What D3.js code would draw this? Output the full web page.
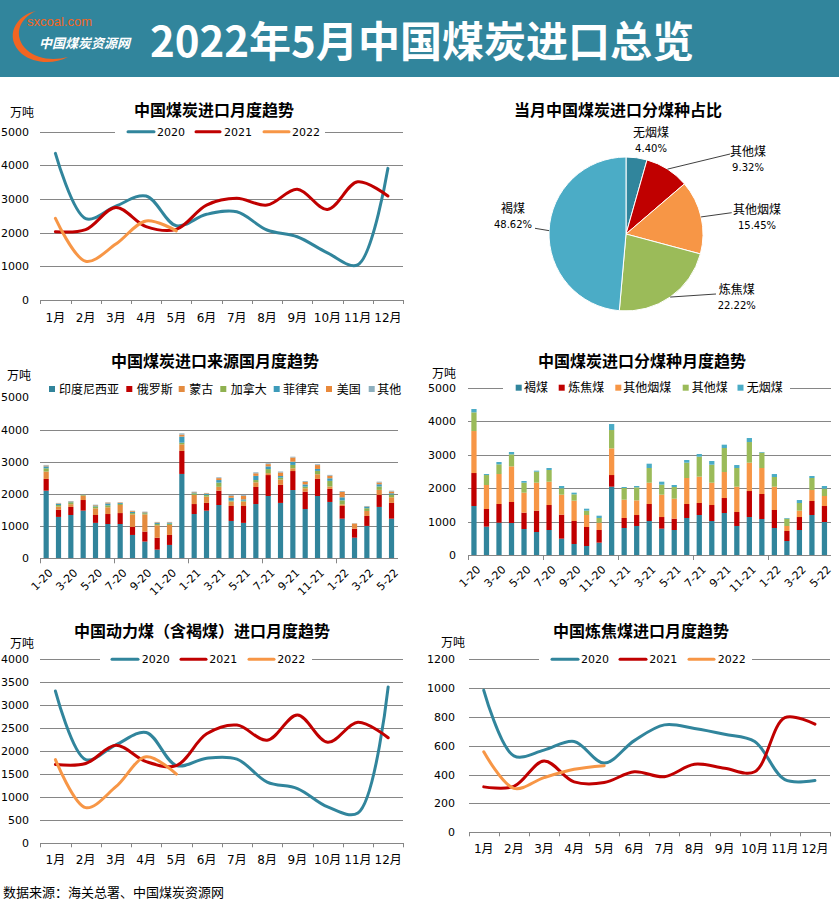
<!DOCTYPE html>
<html><head><meta charset="utf-8">
<script src="https://cdn.jsdelivr.net/npm/d3@7"></script>
<style>body{margin:0;background:#fff;} svg{display:block;}</style>
</head><body>
<svg id="c" width="839" height="903"></svg>
<script>
// ---------- DATA ----------
const months = ["1月","2月","3月","4月","5月","6月","7月","8月","9月","10月","11月","12月"];
const years = ["2020","2021","2022"];

// 中国煤炭进口月度趋势 (万吨)
const total2020 = [4356, 2420, 2790, 3090, 2205, 2545, 2620, 2080, 1880, 1400, 1045, 3910];
const total2021 = [2030, 2090, 2750, 2180, 2100, 2820, 3020, 2820, 3290, 2690, 3510, 3090];
const total2022 = [2425, 1150, 1660, 2350, 2055];

// 中国动力煤（含褐煤）进口月度趋势
const steam2020 = [3310, 1820, 2140, 2410, 1690, 1850, 1830, 1330, 1190, 790, 660, 3400];
const steam2021 = [1715, 1735, 2130, 1775, 1690, 2380, 2570, 2240, 2790, 2195, 2630, 2295];
const steam2022 = [1820, 775, 1230, 1880, 1505];

// 中国炼焦煤进口月度趋势
const coking2020 = [985, 530, 570, 630, 480, 636, 745, 720, 680, 630, 365, 360];
const coking2021 = [315, 318, 495, 350, 345, 420, 386, 472, 444, 420, 795, 750];
const coking2022 = [558, 305, 379, 437, 462];

// 当月中国煤炭进口分煤种占比
const pieNames = ["无烟煤","其他煤","其他烟煤","炼焦煤","褐煤"];
const pieShares = [4.40, 9.32, 15.45, 22.22, 48.62];

// 月份类别 (来源国 / 煤种)
const barCats = ["1-20","2-20","3-20","4-20","5-20","6-20","7-20","8-20","9-20","10-20","11-20","12-20",
  "1-21","2-21","3-21","4-21","5-21","6-21","7-21","8-21","9-21","10-21","11-21","12-21",
  "1-22","2-22","3-22","4-22","5-22"];

// 中国煤炭进口来源国月度趋势
const countryNames = ["印度尼西亚","俄罗斯","蒙古","加拿大","菲律宾","美国","其他"];
const indonesia = [2100,1285,1345,1480,1100,1065,1065,725,520,270,415,2620, 1375,1480,1655,1160,1100,1685,1935,1720,2120,1530,1935,1750, 1230,640,1005,1595,1230];
const russia    = [365,225,250,330,245,310,340,250,310,370,310,715, 310,240,445,465,525,530,650,560,590,540,530,405, 395,280,310,375,490];
const mongolia  = [230,95,85,135,205,210,250,390,535,385,310,205, 280,195,120,135,135,145,60,165,85,105,145,75, 50,115,155,155,175];
const canada    = [100,50,60,20,60,60,35,40,35,40,40,50, 50,50,130,30,30,70,125,60,105,50,105,175, 125,0,85,105,85];
const philippines=[60,35,20,10,30,60,30,40,25,30,30,190, 30,35,80,90,40,130,85,50,100,70,60,80, 95,0,50,70,40];
const usa       = [25,15,10,5,15,25,15,25,15,20,15,60, 15,20,60,60,110,80,70,110,130,80,120,80, 170,45,10,55,55];
const others    = [20,15,10,5,10,10,5,10,10,15,10,40, 10,10,25,25,27,30,25,30,25,25,25,25, 25,10,10,25,25];

// 中国煤炭进口分煤种月度趋势
const coalTypes = ["褐煤","炼焦煤","其他烟煤","其他煤","无烟煤"];
const lignite     = [1464,847,966,956,777,687,747,488,329,269,369,2042, 807,867,1016,787,747,1106,1195,1016,1255,867,1135,1076, 807,418,747,1195,986];
const cokingCoal  = [986,528,558,628,488,638,747,717,687,568,378,348, 299,328,508,348,339,418,359,478,448,418,777,747, 538,299,388,419,478];
const otherBitum  = [1255,717,896,1065,598,836,697,598,608,358,219,797, 547,438,637,668,597,777,787,667,777,757,847,777, 697,150,190,328,299];
const otherCoal   = [558,298,289,359,298,329,349,189,189,130,140,548, 349,389,439,299,349,458,597,538,717,558,617,458, 289,219,229,359,219];
const anthracite  = [100,30,70,70,50,30,60,70,50,59,69,179, 30,40,129,89,60,80,80,110,100,89,120,20, 89,20,89,60,80];

// ---------- STYLE ----------
const C_TEAL = "#31859C", C_RED = "#C00000", C_ORANGE = "#F79646", C_GREEN = "#9BBB59", C_BLUE = "#4BACC6";
const GRID = "#868686";
const CJK = "'Noto Sans CJK SC','Microsoft YaHei',sans-serif";
const NUM = "'DejaVu Sans','Noto Sans CJK SC',sans-serif";

const svg = d3.select("#c");

// ---------- HEADER ----------
svg.append("rect").attr("x",0).attr("y",0).attr("width",839).attr("height",77).attr("fill","#31859C");
svg.append("path")
  .attr("d","M36 11 C16 15, 3 37, 22 54 C33 63, 53 65, 68 57 C53 61, 37 59, 27 50 C13 37, 18 19, 36 11 Z")
  .attr("fill","#F26522");
svg.append("text").attr("x",27).attr("y",26).attr("fill","#F26522")
  .style("font-family","'Liberation Sans',Arial,sans-serif").style("font-size","13px").text("sxcoal.com");
svg.append("text").attr("x",39).attr("y",48).attr("fill","#fff")
  .style("font-family",CJK).style("font-size","13px").style("font-weight","bold").style("font-style","italic")
  .text("中国煤炭资源网");
svg.append("text").attr("x",150).attr("y",57).attr("fill","#fff")
  .style("font-family",CJK).style("font-size","42px").style("font-weight","bold")
  .text("2022年5月中国煤炭进口总览");

// ---------- helpers ----------
function txt(g, x, y, s, size, opts = {}) {
  const t = g.append("text").attr("x", x).attr("y", y).text(s)
    .style("font-family", opts.family || CJK).style("font-size", size + "px")
    .attr("fill", opts.fill || "#000");
  if (opts.anchor) t.attr("text-anchor", opts.anchor);
  if (opts.bold) t.style("font-weight", "bold");
  return t;
}

function lineChart(o) {
  const g = svg.append("g");
  const x = d3.scaleBand().domain(months).range([o.xa, o.xb]);
  const y = d3.scaleLinear().domain([0, o.max]).range([o.y0, o.yTop]);
  const bw = x.bandwidth();
  const gridVals = d3.range(0, o.max + 1, o.step);
  // y axis with gridlines
  const ya = g.append("g").attr("transform", `translate(${o.xa},0)`)
    .call(d3.axisLeft(y).tickValues(gridVals).tickSize(-(o.xb - o.xa)).tickPadding(o.xa - o.labX).tickFormat(d3.format("d")));
  ya.select(".domain").remove();
  ya.selectAll("line").attr("stroke", GRID).attr("stroke-width", 1).attr("shape-rendering","crispEdges");
  ya.selectAll("text").style("font-family", NUM).style("font-size", "11px").attr("fill", "#000");
  // legend white background over top grid
  g.append("rect").attr("x", o.legend.wa).attr("y", y(o.max) - 8).attr("width", o.legend.wb - o.legend.wa).attr("height", 16).attr("fill", "#fff");
  // x axis
  const xa = g.append("g").attr("transform", `translate(0,${o.y0})`)
    .call(d3.axisBottom(x).tickSize(0).tickPadding(o.monthPad));
  xa.select(".domain").attr("stroke", GRID).attr("shape-rendering","crispEdges");
  xa.selectAll("text").style("font-family", NUM).style("font-size", "12px").attr("fill", "#000");
  g.selectAll(".bt").data(d3.range(13)).join("line")
    .attr("x1", i => Math.round(o.xa + i * x.step()) + 0.5).attr("x2", i => Math.round(o.xa + i * x.step()) + 0.5)
    .attr("y1", o.y0).attr("y2", o.y0 + 4).attr("stroke", GRID);
  // lines
  const line = d3.line().x((d, i) => x(months[i]) + bw / 2).y(d => y(d)).curve(d3.curveCatmullRom.alpha(0.5));
  o.series.forEach(s => {
    g.append("path").attr("d", line(s.vals)).attr("fill", "none").attr("stroke", s.color)
      .attr("stroke-width", 3).attr("stroke-linecap", "round").attr("stroke-linejoin", "round");
  });
  // legend
  o.series.forEach((s, i) => {
    const L = o.legend.items[i];
    g.append("line").attr("x1", L[0]).attr("x2", L[1]).attr("y1", y(o.max)).attr("y2", y(o.max))
      .attr("stroke", s.color).attr("stroke-width", 3).attr("stroke-linecap", "round");
    txt(g, L[2], y(o.max) + 4, years[i], 11, { family: NUM });
  });
  txt(g, o.titleX, o.titleY, o.title, 16, { anchor: "middle", bold: true });
  txt(g, o.unitX, o.unitY, "万吨", 12);
}

function barChart(o) {
  const g = svg.append("g");
  const n = barCats.length;
  const x = d3.scaleBand().domain(barCats).range([o.xa, o.xb]).paddingInner(0.58).paddingOuter(0.29);
  const y = d3.scaleLinear().domain([0, 5000]).range([o.y0, o.yTop]);
  const ya = g.append("g").attr("transform", `translate(${o.xa},0)`)
    .call(d3.axisLeft(y).tickValues(d3.range(0, 5001, 1000)).tickSize(-(o.xb - o.xa)).tickPadding(o.xa - o.labX).tickFormat(d3.format("d")));
  ya.select(".domain").remove();
  ya.selectAll("line").attr("stroke", GRID).attr("shape-rendering","crispEdges")
    .attr("opacity", d => (d === 5000 && !o.topGrid) ? 0 : 1);
  ya.selectAll("text").style("font-family", NUM).style("font-size", "11px").attr("fill", "#000");
  if (o.legendWhite) g.append("rect").attr("x", o.legendWhite[0]).attr("y", y(5000) - 8)
    .attr("width", o.legendWhite[1] - o.legendWhite[0]).attr("height", 16).attr("fill", "#fff");
  // stacks
  const keys = o.names;
  const rows = barCats.map((c, i) => { const r = { cat: c }; keys.forEach((k, j) => r[k] = o.series[j][i]); return r; });
  const stack = d3.stack().keys(keys)(rows);
  stack.forEach((layer, j) => {
    g.selectAll(null).data(layer).join("rect")
      .attr("x", d => x(d.data.cat)).attr("width", x.bandwidth())
      .attr("y", d => y(d[1])).attr("height", d => Math.max(0, y(d[0]) - y(d[1])))
      .attr("fill", o.colors[j]);
  });
  // x axis
  const xa = g.append("g").attr("transform", `translate(0,${o.y0})`)
    .call(d3.axisBottom(x).tickSize(0).tickValues(barCats.filter((c, i) => i % 2 === 0)));
  xa.select(".domain").attr("stroke", GRID).attr("shape-rendering","crispEdges");
  xa.selectAll("text").style("font-family", NUM).style("font-size", "11px").attr("fill", "#000")
    .attr("text-anchor", "end").attr("dy", "0.3em").attr("y", 0)
    .attr("transform", "translate(5,13) rotate(-45)");
  const step = x.step();
  g.selectAll(".bt").data([0, 6, 12, 18, 24]).join("line")
    .attr("x1", i => Math.round(o.xa + i * step) + 0.5).attr("x2", i => Math.round(o.xa + i * step) + 0.5)
    .attr("y1", o.y0).attr("y2", o.y0 + 5).attr("stroke", GRID);
  // legend
  keys.forEach((k, j) => {
    const L = o.legend[j];
    g.append("rect").attr("x", L[0] - 3).attr("y", o.legendY - 3).attr("width", 6).attr("height", 6).attr("fill", o.colors[j]);
    txt(g, L[1], o.legendY + 4.5, k, 12);
  });
  txt(g, o.titleX, o.titleY, o.title, 16, { anchor: "middle", bold: true });
  txt(g, o.unitX, o.unitY, "万吨", 12);
}

// ---------- Chart 1 ----------
lineChart({
  xa: 40.3, xb: 403, y0: 300, yTop: 131.7, max: 5000, step: 1000, labX: 29, monthPad: 13,
  series: [{ vals: total2020, color: C_TEAL }, { vals: total2021, color: C_RED }, { vals: total2022, color: C_ORANGE }],
  legend: { wa: 115, wb: 325, items: [[128, 154, 157], [196, 220, 224], [264, 289, 292]] },
  title: "中国煤炭进口月度趋势", titleX: 214, titleY: 116, unitX: 10, unitY: 117
});

// ---------- Chart 5 ----------
lineChart({
  xa: 40.3, xb: 403.3, y0: 843.3, yTop: 659.3, max: 4000, step: 500, labX: 29, monthPad: 12,
  series: [{ vals: steam2020, color: C_TEAL }, { vals: steam2021, color: C_RED }, { vals: steam2022, color: C_ORANGE }],
  legend: { wa: 100, wb: 312, items: [[112, 138, 141.7], [181, 206, 209.3], [249, 274, 277.3]] },
  title: "中国动力煤（含褐煤）进口月度趋势", titleX: 202, titleY: 637, unitX: 10, unitY: 648
});

// ---------- Chart 6 ----------
lineChart({
  xa: 468.7, xb: 830, y0: 832.3, yTop: 659.3, max: 1200, step: 200, labX: 455, monthPad: 12,
  series: [{ vals: coking2020, color: C_TEAL }, { vals: coking2021, color: C_RED }, { vals: coking2022, color: C_ORANGE }],
  legend: { wa: 539, wb: 752, items: [[552, 578, 581], [620, 646, 649.3], [689, 714, 717.7]] },
  title: "中国炼焦煤进口月度趋势", titleX: 641, titleY: 637, unitX: 441, unitY: 647
});

// ---------- Chart 3 ----------
barChart({
  xa: 40, xb: 397.7, y0: 558.3, yTop: 397.3, labX: 29, topGrid: false,
  names: countryNames, series: [indonesia, russia, mongolia, canada, philippines, usa, others],
  colors: ["#31849B", "#C00000", "#E48B3F", "#8FB150", "#3D9BBA", "#E9893B", "#8DAFBE"],
  legendY: 389, legend: [[52, 59], [129.3, 136.7], [181.7, 189.3], [223.3, 230.7], [276.7, 283], [329, 336.7], [371.7, 377.3]],
  title: "中国煤炭进口来源国月度趋势", titleX: 215, titleY: 367, unitX: 7, unitY: 380
});

// ---------- Chart 4 ----------
barChart({
  xa: 467.7, xb: 830.7, y0: 555, yTop: 387.7, labX: 456, topGrid: true, legendWhite: [503, 790],
  names: coalTypes, series: [lignite, cokingCoal, otherBitum, otherCoal, anthracite],
  colors: [C_TEAL, C_RED, C_ORANGE, C_GREEN, C_BLUE],
  legendY: 387.7, legend: [[518.7, 524], [561.7, 568.3], [618.3, 623.3], [685.7, 691.7], [740.5, 746.7]],
  title: "中国煤炭进口分煤种月度趋势", titleX: 642, titleY: 367, unitX: 432, unitY: 378
});

// ---------- Pie ----------
(function () {
  const cx = 626, cy = 234, r = 77;
  const g = svg.append("g").attr("transform", `translate(${cx},${cy})`);
  const pieColors = [C_TEAL, C_RED, C_ORANGE, C_GREEN, C_BLUE];
  const arcs = d3.pie().sort(null).value(d => d)(pieShares);
  const arc = d3.arc().innerRadius(0).outerRadius(r);
  g.selectAll("path").data(arcs).join("path").attr("d", arc)
    .attr("fill", (d, i) => pieColors[i]).attr("stroke", "#fff").attr("stroke-width", 1);
  // label layout (absolute page positions)
  const labelPos = [[651, 136.7], [748, 156], [757, 214], [736.7, 294], [513, 212.7]];
  const leaderEnd = [null, [730, 154], [731.7, 212.7], [716, 294], [535, 228.3]];
  arcs.forEach((a, i) => {
    const mid = (a.startAngle + a.endAngle) / 2;
    if (leaderEnd[i]) {
      const sx = Math.sin(mid) * r, sy = -Math.cos(mid) * r;
      g.append("line").attr("x1", sx).attr("y1", sy)
        .attr("x2", leaderEnd[i][0] - cx).attr("y2", leaderEnd[i][1] - cy)
        .attr("stroke", "#404040").attr("stroke-width", 1);
    }
    txt(svg, labelPos[i][0], labelPos[i][1], pieNames[i], 12, { anchor: "middle" });
    txt(svg, labelPos[i][0], labelPos[i][1] + 15, pieShares[i].toFixed(2) + "%", 10, { anchor: "middle", family: NUM });
  });
  txt(svg, 618, 116, "当月中国煤炭进口分煤种占比", 16, { anchor: "middle", bold: true });
})();

// ---------- Footer ----------
txt(svg, 3, 897, "数据来源：海关总署、中国煤炭资源网", 13);
</script>
</body></html>
